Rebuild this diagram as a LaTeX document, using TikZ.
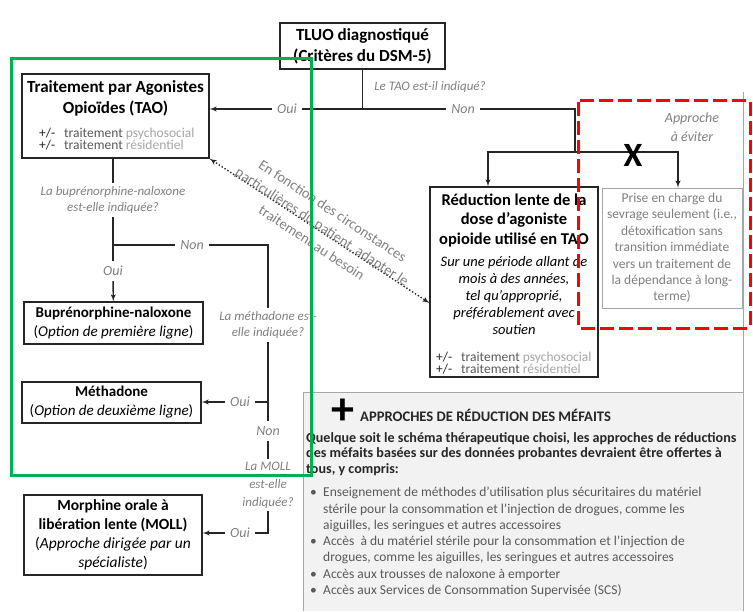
\documentclass[tikz,border=0pt]{standalone}
\usepackage{fontspec}
\setmainfont{Carlito}
\usetikzlibrary{arrows}
\definecolor{vert}{HTML}{00B050}
\definecolor{gris}{HTML}{808080}
\definecolor{grismoyen}{HTML}{595959}
\definecolor{grisclair}{HTML}{A6A6A6}
\definecolor{fonce}{HTML}{262626}
\definecolor{fondpan}{HTML}{F2F2F2}
\newcommand{\pmt}[1]{\makebox[25pt][l]{\textcolor{fonce}{+/-}}\textcolor{grismoyen}{traitement} \textcolor{grisclair}{#1}}
\newcommand{\puce}{\makebox[13pt][l]{\textbullet}}
\tikzset{
	boite/.style = {draw=fonce, line width=1.2pt, fill=white, align=center,
		inner sep=2pt, text=black},% boite noire
	boite_g/.style = {draw=grisclair, line width=0.9pt, fill=white, align=center,
		text=gris, font=\fontsize{13.5}{16.4}\selectfont},% boite grise, approche a eviter
	titre/.style = {align=center, font=\fontsize{17}{21}\selectfont\bfseries},
	question/.style = {align=center, inner sep=3pt, text=gris,
		font=\fontsize{13}{16}\selectfont\itshape},
	choix/.style = {inner sep=5pt, text=gris, font=\fontsize{14}{16}\selectfont\itshape},% oui / non
	plusmoins/.style = {align=left, inner sep=0pt, anchor=west,
		font=\fontsize{13.5}{12.5}\selectfont},
	trait/.style = {draw=fonce, line width=1.4pt},
	pointille/.style = {draw=fonce, line width=1.4pt, dotted},
	cadre_v/.style = {draw=vert, line width=3pt},
	cadre_r/.style = {draw=red, line width=3pt, dash pattern=on 14pt off 5pt, rounded corners=2pt}
}
\begin{document}
\begin{tikzpicture}[x=1pt,y=-1pt,>=latex']
\useasboundingbox (0,0) rectangle (753,611);
% panneau des mefaits
\fill[fondpan] (303,392) rectangle (742,611);
\draw[grisclair, line width=0.8pt] (303,611) -- (303,392) -- (743,392);
\draw[grisclair, line width=0.8pt] (743,92) -- (743,611);

% boites
\node[boite, titre, minimum width=165pt, minimum height=46pt] (tluo) at (362.5,46) {TLUO diagnostiqué\\(Critères du DSM-5)};
\node[boite, minimum width=187pt, minimum height=84pt] (tao) at (115.5,116) {};
\node[titre] (tao-t) at (115.5,98) {Traitement par Agonistes\\Opioïdes (TAO)};
\node[plusmoins] (tao-p) at (39,139) {\pmt{psychosocial}\\\pmt{résidentiel}};
\node[boite, minimum width=179pt, minimum height=42pt, font=\fontsize{15}{19}\selectfont] (bup) at (113.5,323) {\textbf{Buprénorphine-naloxone}\\(\textit{Option de première ligne})};
\node[boite, minimum width=179pt, minimum height=41pt, font=\fontsize{15}{19}\selectfont] (meth) at (111.5,402.5) {\textbf{Méthadone}\\(\textit{Option de deuxième ligne})};
\node[boite, minimum width=178pt, minimum height=80pt, font=\fontsize{15.5}{19}\selectfont] (moll) at (113,535) {\textbf{Morphine orale à}\\\textbf{libération lente (MOLL)}\\(\textit{Approche dirigée par un}\\\textit{spécialiste})};
\node[boite, minimum width=168pt, minimum height=190pt] (reduc) at (514,282) {};
\node[titre, font=\fontsize{16.5}{19.5}\selectfont\bfseries] (reduc-t) at (514,220) {Réduction lente de la\\dose d’agoniste\\opioide utilisé en TAO};
\node[align=center, font=\fontsize{14.5}{17}\selectfont\itshape] (reduc-i) at (514,296) {Sur une période allant de\\mois à des années,\\tel qu’approprié,\\préférablement avec\\soutien};
\node[plusmoins] (reduc-p) at (436,363) {\pmt{psychosocial}\\\pmt{résidentiel}};
\node[boite_g, minimum width=140pt, minimum height=120pt] (prise) at (672,248) {Prise en charge du\\sevrage seulement (i.e.,\\détoxification sans\\transition immédiate\\vers un traitement de\\la dépendance à long-\\terme)};

% questions et reponses
\node[question] (q0) at (430,87) {Le TAO est-il indiqué?};
\node[choix] (oui1) at (287,109) {Oui};
\node[choix] (non1) at (463,109) {Non};
\node[question] (q1) at (113,200) {La buprénorphine-naloxone\\est-elle indiquée?};
\node[choix] (non2) at (192,245) {Non};
\node[choix] (oui2) at (113,271) {Oui};
\node[question] (q2) at (268,325) {La méthadone est-\\elle indiquée?};
\node[choix] (oui3) at (240,402) {Oui};
\node[choix] (non3) at (268,431) {Non};
\node[question, font=\fontsize{13}{18}\selectfont\itshape] (q3) at (268,485) {La MOLL\\est-elle\\indiquée?};
\node[choix] (oui4) at (240,533) {Oui};
\node[question, font=\fontsize{14}{19}\selectfont\itshape] (eviter) at (692,127) {Approche\\à éviter};

\coordinate (j1) at (tluo.south |- oui1);
\coordinate (jnon) at (575,152);
\coordinate (jg) at (488,152);
\coordinate (jd) at (678,152);
\coordinate (j2) at (113,245);
\coordinate (c2) at (268,245);
\coordinate (j3) at (268,402);
\coordinate (j4) at (268,533);

% connecteurs
\draw[trait] (tluo.south) -- (j1);
\draw[trait] (oui1) -- (non1);
\draw[trait,->] (oui1) -- (tao.east |- oui1);
\draw[trait] (non1) -- (non1 -| jnon) -- (jnon);
\draw[trait,->] (jnon) -- (jg) -- (jg |- reduc.north);
\draw[trait,->] (jnon) -- (jd) -- (jd |- prise.north);
\node[font=\fontsize{34}{34}\selectfont\bfseries] (croix) at (633,155) {X};

\draw[trait] (tao.south -| q1) -- (q1);
\draw[trait] (q1) -- (j2) -- (non2);
\draw[trait] (j2) -- (oui2);
\draw[trait,->] (oui2) -- (bup);
\draw[trait] (non2) -- (c2) -- (q2);
\draw[trait] (q2) -- (j3) -- (non3);
\draw[trait] (j3) -- (oui3);
\draw[trait,->] (oui3) -- (meth.east |- oui3);
\draw[trait] (non3) -- (q3);
\draw[trait] (q3) -- (j4) -- (oui4);
\draw[trait,->] (oui4) -- (moll.east |- oui4);

\draw[pointille,<->] (tao.south east) -- ([yshift=-21pt]reduc.west)
	node[midway, sloped, yshift=5pt, align=center, text=gris, inner sep=1pt,
		font=\fontsize{14.5}{19}\selectfont] (adapt) {En fonction des circonstances\\particulières du patient, adapter le\\traitement au besoin};

% reduction des mefaits
\node[font=\fontsize{46}{46}\selectfont\bfseries] (plus) at (343,412) {+};
\node[anchor=west, inner sep=0pt, font=\fontsize{14.6}{16}\selectfont\bfseries, text=fonce] (pan-t) at (360,415) {APPROCHES DE RÉDUCTION DES MÉFAITS};
\node[anchor=north west, align=left, inner sep=0pt, text=fonce,
	font=\fontsize{14.1}{15.6}\selectfont\bfseries] (pan-p) at (306,432) {Quelque soit le schéma thérapeutique choisi, les approches de réductions\\des méfaits basées sur des données probantes devraient être offertes à\\tous, y compris:};
\node[anchor=north west, align=left, inner sep=0pt, text=grismoyen,
	font=\fontsize{13.5}{16.3}\selectfont] (pan-l) at (310,487) {\puce Enseignement de méthodes d’utilisation plus sécuritaires du matériel\\\hspace*{13pt}stérile pour la consommation et l’injection de drogues, comme les\\\hspace*{13pt}aiguilles, les seringues et autres accessoires\\\puce Accès~ à du matériel stérile pour la consommation et l’injection de\\\hspace*{13pt}drogues, comme les aiguilles, les seringues et autres accessoires\\\puce Accès aux trousses de naloxone à emporter\\\puce Accès aux Services de Consommation Supervisée (SCS)};

% cadres
\draw[cadre_r] (578,100) rectangle (750,328);
\draw[cadre_v] (11,58) rectangle (311,475);
\end{tikzpicture}
\end{document}
